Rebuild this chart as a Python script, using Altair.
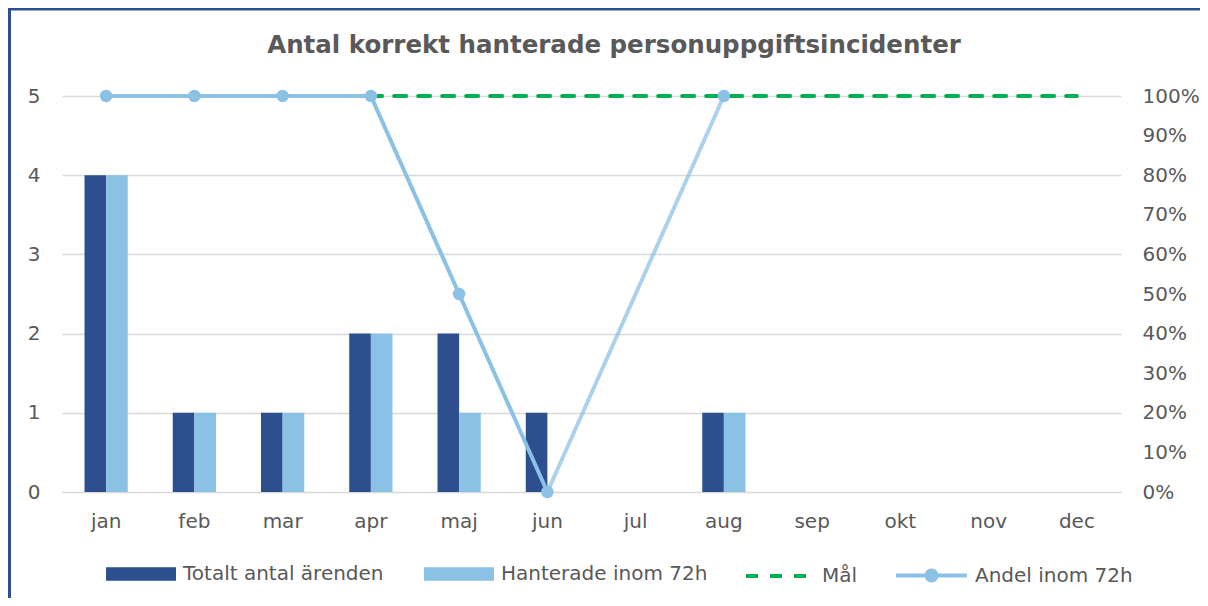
import altair as alt
import pandas as pd

# ---- data ----
months = ["jan", "feb", "mar", "apr", "maj", "jun", "jul", "aug", "sep", "okt", "nov", "dec"]
totalt = [4, 1, 1, 2, 2, 1, None, 1, None, None, None, None]
hanterade = [4, 1, 1, 2, 1, None, None, 1, None, None, None, None]
andel = [1.0, 1.0, 1.0, 1.0, 0.5, 0.0, None, 1.0, None, None, None, None]
mal = [1.0] * 12
bar_series = ["Totalt antal ärenden", "Hanterade inom 72h"]
mal_name = "Mål"
andel_name = "Andel inom 72h"
left_ticks = [0, 1, 2, 3, 4, 5]
right_ticks = [0, 0.1, 0.2, 0.3, 0.4, 0.5, 0.6, 0.7, 0.8, 0.9, 1.0]
title_text = "Antal korrekt hanterade personuppgiftsincidenter"

# ---- styling ----
DARK = "#2D4F8E"
LIGHT = "#8BC1E5"
GREEN = "#00B050"
TEXT = "#595959"
GRID = "#D9D9D9"
FONT = "DejaVu Sans"
W, H = 1059, 396
PAD_L, PAD_T = 54, 88
PAD_R = 1192 - PAD_L - W
PAD_B = 590 - PAD_T - H

# ---- tables ----
bar_rows = []
for m, t, h in zip(months, totalt, hanterade):
    if t is not None:
        bar_rows.append({"month": m, "series": bar_series[0], "value": t})
    if h is not None:
        bar_rows.append({"month": m, "series": bar_series[1], "value": h})
bar_df = pd.DataFrame(bar_rows)

mal_df = pd.DataFrame({"month": months, "value": mal, "series": mal_name})

# line: months with a value; the jun->aug bridge over the missing jul is its own segment
valid = [(m, v) for m, v in zip(months, andel) if v is not None]
line_rows = []
seg = 0
for i, (m, v) in enumerate(valid):
    if i > 0:
        prev_idx = months.index(valid[i - 1][0])
        if months.index(m) - prev_idx > 1:
            seg += 1
            line_rows.append({"month": valid[i - 1][0], "value": valid[i - 1][1], "seg": seg})
            line_rows.append({"month": m, "value": v, "seg": seg})
            seg += 1
            line_rows.append({"month": m, "value": v, "seg": seg})
            continue
    line_rows.append({"month": m, "value": v, "seg": seg})
line_df = pd.DataFrame(line_rows)
line_df["op"] = line_df["seg"].map(lambda s: 0.72 if s % 2 == 1 else 1.0)
pts_df = pd.DataFrame({"month": [m for m, _ in valid], "value": [v for _, v in valid], "series": andel_name})

x_scale = alt.Scale(domain=months, paddingInner=0.51, paddingOuter=0.255)
x_axis = alt.Axis(title=None, labelAngle=0, ticks=False, domain=False, labelPadding=19,
                  labelFontSize=20, labelColor=TEXT, labelFont=FONT, grid=False)
x_enc = alt.X("month:N", sort=months, scale=x_scale, axis=x_axis)

yr_scale = alt.Scale(domain=[0, 1])
yr_axis = alt.Axis(title=None, orient="right", values=right_ticks, format=".0%", ticks=False,
                   domain=False, grid=False, labelPadding=21, labelFontSize=20,
                   labelColor=TEXT, labelFont=FONT)

bars = alt.Chart(bar_df).mark_bar().encode(
    x=x_enc,
    xOffset=alt.XOffset("series:N", sort=bar_series,
                        scale=alt.Scale(domain=bar_series, paddingInner=0, paddingOuter=0)),
    y=alt.Y("value:Q", scale=alt.Scale(domain=[0, 5]),
            axis=alt.Axis(title=None, values=left_ticks, format="d", ticks=False, domain=False,
                          grid=True, gridColor=GRID, gridWidth=1.5, labelPadding=22,
                          labelFontSize=20, labelColor=TEXT, labelFont=FONT)),
    color=alt.Color("series:N", scale=alt.Scale(domain=bar_series, range=[DARK, LIGHT]),
                    legend=alt.Legend(title=None, orient="none", direction="horizontal",
                                      legendX=44, legendY=443, padding=0,
                                      symbolType="M-1,-0.19H1V0.19H-1Z", symbolSize=4900,
                                      symbolStrokeWidth=0, labelOffset=7, columnPadding=40,
                                      labelFontSize=20, labelColor=TEXT, labelFont=FONT,
                                      labelLimit=400)),
)

mal_line = alt.Chart(mal_df).mark_line(strokeDash=[12, 12], strokeCap="round", strokeWidth=4).encode(
    x=x_enc,
    y=alt.Y("value:Q", scale=yr_scale, axis=yr_axis),
    color=alt.Color("series:N", scale=alt.Scale(domain=[mal_name], range=[GREEN]),
                    legend=alt.Legend(title=None, orient="none", direction="horizontal",
                                      legendX=682, legendY=445, padding=0,
                                      symbolType="stroke", symbolSize=4356, symbolStrokeWidth=4,
                                      symbolDash=[12, 12], labelOffset=8,
                                      labelFontSize=20, labelColor=TEXT, labelFont=FONT)),
)

andel_line = alt.Chart(line_df).mark_line(strokeWidth=4, color=LIGHT).encode(
    x=x_enc,
    y=alt.Y("value:Q", scale=yr_scale, axis=yr_axis),
    detail="seg:N",
    opacity=alt.Opacity("op:Q", scale=None, legend=None),
)

andel_pts = alt.Chart(pts_df).mark_point(filled=True, size=154, opacity=1).encode(
    x=x_enc,
    y=alt.Y("value:Q", scale=yr_scale, axis=yr_axis),
    color=alt.Color("series:N", scale=alt.Scale(domain=[andel_name], range=[LIGHT]),
                    legend=alt.Legend(title=None, orient="none", direction="horizontal",
                                      legendX=832, legendY=442, padding=0,
                                      symbolType="M-1,0H1M0.14,0A0.14,0.14,0,1,1,-0.14,0A0.14,0.14,0,1,1,0.14,0Z",
                                      symbolSize=5041, symbolStrokeWidth=4,
                                      symbolStrokeColor=LIGHT, symbolFillColor=LIGHT,
                                      labelOffset=6, labelFontSize=20, labelColor=TEXT,
                                      labelFont=FONT)),
)

# chart-area frame: left edge (rule) and top edge (thin filled band)
one = pd.DataFrame({"title": [title_text]})
frame_left = alt.Chart(one).mark_rule(color=DARK, strokeWidth=3).encode(
    x=alt.value(-PAD_L + 1.5), y=alt.value(-PAD_T), y2=alt.value(H + PAD_B),
)
frame_top = alt.Chart(one).mark_rect(color=DARK, strokeWidth=0).encode(
    x=alt.value(-PAD_L), x2=alt.value(W + PAD_R),
    y=alt.value(-PAD_T), y2=alt.value(-PAD_T + 2.5),
)
# chart title, centred on the chart area as in the reference
title_mark = alt.Chart(one).mark_text(font=FONT, fontSize=24.5, fontWeight="bold", color=TEXT,
                                      align="center", baseline="alphabetic").encode(
    text="title:N", x=alt.value(W / 2 + 22.5), y=alt.value(-43),
)

right = alt.layer(mal_line, andel_line, andel_pts).resolve_scale(color="independent")

chart = alt.layer(frame_left, frame_top, title_mark, bars, right).resolve_scale(
    y="independent", color="independent"
).properties(
    width=W, height=H,
    padding={"left": PAD_L, "top": PAD_T, "right": PAD_R, "bottom": PAD_B},
    autosize=alt.AutoSizeParams(type="none"),
    background="white",
).configure_view(stroke=None)

chart.save("out.html", embed_options={"renderer": "svg", "actions": False})
